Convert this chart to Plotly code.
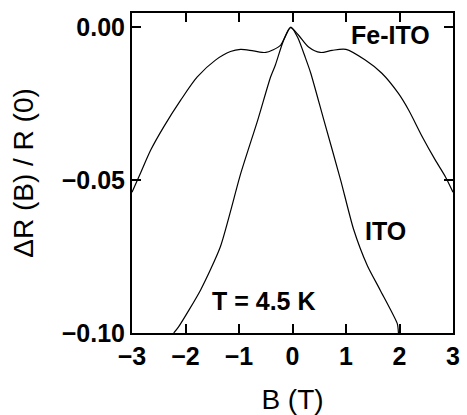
import plotly.graph_objects as go

# Fe-ITO curve
b_fe = [-3.0, -2.84, -2.65, -2.41, -2.09, -1.78, -1.44, -1.16, -0.97, -0.73, -0.50, -0.37, -0.22, -0.04,
        0.11, 0.30, 0.52, 0.74, 1.0, 1.36, 1.67, 1.98, 2.17, 2.43, 2.67, 2.86, 3.0]
r_fe = [-0.054, -0.0477, -0.0402, -0.0327, -0.0239, -0.0163, -0.0108, -0.0080, -0.0073, -0.0078, -0.0083, -0.0075, -0.0059, -0.0002,
        -0.0026, -0.0065, -0.0083, -0.0076, -0.0073, -0.0108, -0.0151, -0.0217, -0.0271, -0.0360, -0.0435, -0.0490, -0.0540]

# ITO curve
b_ito = [-2.22, -2.13, -1.72, -1.35, -0.97, -0.65, -0.41, -0.32, -0.17, -0.03,
         0.10, 0.24, 0.34, 0.58, 0.90, 1.14, 1.40, 1.64, 1.96, 1.98]
r_ito = [-0.100, -0.098, -0.086, -0.0719, -0.048, -0.0304, -0.0163, -0.0124, -0.0045, 0.0,
         -0.0035, -0.0100, -0.0150, -0.030, -0.050, -0.066, -0.078, -0.086, -0.097, -0.100]

x_ticks = [-3, -2, -1, 0, 1, 2, 3]
x_ticktext = ["\u22123", "\u22122", "\u22121", "0", "1", "2", "3"]
y_ticks = [-0.10, -0.05, 0.00]
y_ticktext = ["\u22120.10", "\u22120.05", "0.00"]
x_range = [-3, 3]
y_range = [-0.10, 0.0046]

fig = go.Figure()
fig.add_trace(go.Scatter(x=b_fe, y=r_fe, mode="lines",
                         line=dict(color="black", width=1.2, shape="spline", smoothing=0.8),
                         showlegend=False))
fig.add_trace(go.Scatter(x=b_ito, y=r_ito, mode="lines",
                         line=dict(color="black", width=1.2, shape="spline", smoothing=0.6),
                         showlegend=False))

tickfont = dict(family="Liberation Sans, Arial", size=25, color="black", weight="bold")
titlefont = dict(family="Liberation Sans, Arial", size=28, color="black")

fig.update_xaxes(range=x_range, tickmode="array", tickvals=x_ticks, ticktext=x_ticktext,
                 tickfont=tickfont, ticks="inside", ticklen=9, tickwidth=1.5, tickcolor="black",
                 showline=True, linewidth=2, linecolor="black", mirror="ticks",
                 showgrid=False, zeroline=False,
                 title=dict(text="B (T)", font=titlefont, standoff=23))
fig.update_yaxes(range=y_range, tickmode="array", tickvals=y_ticks, ticktext=y_ticktext,
                 tickfont=tickfont, ticks="inside", ticklen=9, tickwidth=1.5, tickcolor="black",
                 showline=True, linewidth=2, linecolor="black", mirror="ticks",
                 showgrid=False, zeroline=False,
                 title=dict(text="\u0394R (B) / R (0)", font=titlefont, standoff=20))

annfont = dict(family="Liberation Sans, Arial", size=25, color="black", weight="bold")
fig.add_annotation(x=1.83, y=-0.0026, text="Fe-ITO", showarrow=False, font=annfont, xref="x", yref="y")
fig.add_annotation(x=1.74, y=-0.0667, text="ITO", showarrow=False, font=annfont, xref="x", yref="y")
fig.add_annotation(x=-0.53, y=-0.0895, text="T = 4.5 K", showarrow=False, font=annfont, xref="x", yref="y")

fig.update_layout(width=467, height=415, margin=dict(l=132, r=14, t=13, b=82, autoexpand=False),
                  plot_bgcolor="white", paper_bgcolor="white")
fig.write_html("out.html", config={"displayModeBar": False},
               post_script="document.body.style.margin='0px';document.body.style.overflow='hidden';")
